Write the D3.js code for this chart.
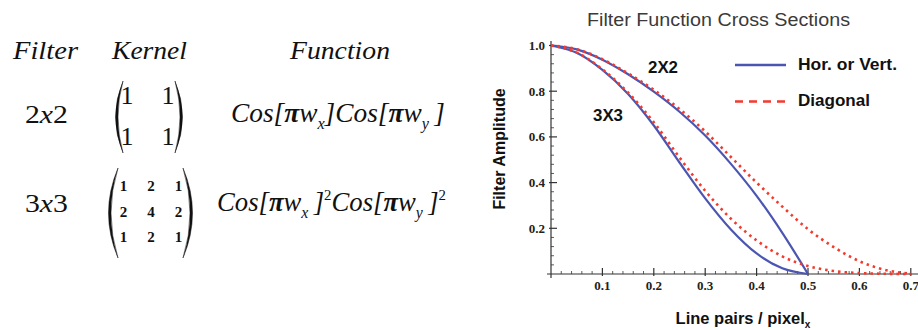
<!DOCTYPE html>
<html>
<head>
<meta charset="utf-8">
<script src="https://cdn.jsdelivr.net/npm/d3@7"></script>
<style>
  body { margin: 0; background: #fff; }
  svg { display: block; }
</style>
</head>
<body>
<div id="chart"></div>
<script>
// frequency samples (line pairs / pixel)
const freqs = [0, 0.05, 0.1, 0.15, 0.2, 0.25, 0.3, 0.35, 0.4, 0.45, 0.5, 0.55, 0.6, 0.65, 0.7];
// amplitudes
const hor2 = [1.0, 0.983, 0.938, 0.874, 0.798, 0.71, 0.606, 0.482, 0.342, 0.18, 0.0];
const diag2 = [1.0, 0.984, 0.94, 0.878, 0.806, 0.722, 0.624, 0.512, 0.4, 0.295, 0.196, 0.118, 0.056, 0.018, 0.002];
const hor3 = [1.0, 0.968, 0.893, 0.788, 0.65, 0.488, 0.331, 0.195, 0.09, 0.025, 0.0];
const diag3 = [1.0, 0.969, 0.896, 0.794, 0.664, 0.51, 0.364, 0.242, 0.147, 0.077, 0.035, 0.013, 0.004, 0.001, 0.0];

const xTicks = [0.1, 0.2, 0.3, 0.4, 0.5, 0.6, 0.7];
const yTicks = [0.2, 0.4, 0.6, 0.8, 1.0];

const width = 918, height = 330;
const svg = d3.select('#chart').append('svg')
  .attr('width', width)
  .attr('height', height);

svg.append('rect').attr('width', width).attr('height', height).attr('fill', '#fff');

// ---------- left: table of kernels ----------
const serif = '"Liberation Serif", "DejaVu Serif", serif';
const tbl = svg.append('g').attr('font-family', serif).attr('fill', '#111');

[['Filter', 13, 65], ['Kernel', 112, 75], ['Function', 290, 100]].forEach(([s, x0, len]) => {
  tbl.append('text').attr('x', x0).attr('y', 59).attr('font-size', 25)
    .attr('font-style', 'italic')
    .attr('textLength', len).attr('lengthAdjust', 'spacingAndGlyphs')
    .text(s);
});

function sizeLabel(y, a, b) {
  const t = tbl.append('text').attr('x', 25).attr('y', y).attr('font-size', 26)
    .attr('textLength', 43).attr('lengthAdjust', 'spacingAndGlyphs');
  t.append('tspan').text(a);
  t.append('tspan').attr('font-style', 'italic').text('x');
  t.append('tspan').text(b);
}
sizeLabel(123, '2', '2');
sizeLabel(212, '3', '3');

function paren(x, y0, y1, outer, inner) {
  const my = (y0 + y1) / 2;
  tbl.append('path')
    .attr('d', `M${x},${y0} Q${outer},${my} ${x},${y1} Q${inner},${my} ${x},${y0} Z`)
    .attr('fill', '#111').attr('stroke', '#111').attr('stroke-width', 0.5);
}
paren(123, 81, 153, 108, 113);
paren(175, 81, 153, 190, 185);
paren(118, 168, 258, 99, 104);
paren(183, 168, 258, 202, 197);

const k2 = [[1, 1], [1, 1]];
k2.forEach((row, i) => row.forEach((v, j) => {
  tbl.append('text').attr('x', 127 + j * 41).attr('y', 104 + i * 40.5)
    .attr('font-size', 26).attr('text-anchor', 'middle').text(v);
}));
const k3 = [[1, 2, 1], [2, 4, 2], [1, 2, 1]];
k3.forEach((row, i) => row.forEach((v, j) => {
  tbl.append('text').attr('x', 123.5 + j * 27.5).attr('y', 191 + i * 25.5)
    .attr('font-size', 15).attr('font-weight', 'bold').attr('text-anchor', 'middle').text(v);
}));

function func(x0, y0, len, squared) {
  const t = tbl.append('text').attr('x', x0).attr('y', y0).attr('font-size', 27)
    .attr('font-style', 'italic').attr('textLength', len).attr('lengthAdjust', 'spacingAndGlyphs');
  let shift = 0;
  ['x', 'y'].forEach(s => {
    t.append('tspan').attr('dy', -shift).text('Cos[');
    shift = 0;
    t.append('tspan').attr('font-weight', 'bold').text('π');
    t.append('tspan').text('w');
    t.append('tspan').attr('font-size', 16).attr('dy', 7).text(s);
    t.append('tspan').attr('dy', -7).text(s === 'y' || squared ? '\u2009]' : ']');
    if (squared) {
      t.append('tspan').attr('font-size', 15).attr('font-style', 'normal').attr('dy', -11).text('2');
      shift = -11;
    }
  });
}
func(231, 122, 214, false);
func(217, 211, 229, true);

// ---------- right: cross section plot ----------
const x = d3.scaleLinear().domain([0, 0.7]).range([551, 910.8]);
const y = d3.scaleLinear().domain([0, 1]).range([274, 45.5]);
const sans = '"Liberation Sans", Arial, sans-serif';

svg.append('text')
  .attr('x', 587).attr('y', 26)
  .attr('font-family', sans).attr('font-size', 17.5)
  .attr('textLength', 263).attr('lengthAdjust', 'spacingAndGlyphs')
  .attr('fill', '#3a3a3a')
  .text('Filter Function Cross Sections');

const axes = svg.append('g').attr('stroke', '#333').attr('stroke-width', 1.2);
// y axis
axes.append('line').attr('x1', x(0)).attr('x2', x(0)).attr('y1', y(1.02)).attr('y2', y(0) + 4);
// x axis
axes.append('line').attr('x1', x(0) - 4).attr('x2', width).attr('y1', y(0)).attr('y2', y(0));

const yMinor = d3.range(0.04, 1.001, 0.04).filter(v => !yTicks.some(t => Math.abs(t - v) < 1e-6));
axes.selectAll('.ymin').data(yMinor).join('line')
  .attr('stroke-width', 0.8)
  .attr('x1', x(0)).attr('x2', x(0) + 3)
  .attr('y1', d => y(d)).attr('y2', d => y(d));
axes.selectAll('.ymaj').data(yTicks).join('line')
  .attr('x1', x(0) - 2).attr('x2', x(0) + 6)
  .attr('y1', d => y(d)).attr('y2', d => y(d));

const xMinor = d3.range(0.02, 0.72, 0.02).filter(v => !xTicks.some(t => Math.abs(t - v) < 1e-6));
axes.selectAll('.xmin').data(xMinor).join('line')
  .attr('stroke-width', 0.8)
  .attr('x1', d => x(d)).attr('x2', d => x(d))
  .attr('y1', y(0)).attr('y2', y(0) - 3);
axes.selectAll('.xmaj').data(xTicks).join('line')
  .attr('x1', d => x(d)).attr('x2', d => x(d))
  .attr('y1', y(0) + 2).attr('y2', y(0) - 6);

svg.append('g').attr('font-family', serif).attr('font-weight', 'bold').attr('font-size', 13).attr('fill', '#222')
  .selectAll('text').data(yTicks).join('text')
  .attr('x', x(0) - 6).attr('y', d => y(d) + 4.5)
  .attr('text-anchor', 'end')
  .text(d => d.toFixed(1));

svg.append('g').attr('font-family', serif).attr('font-weight', 'bold').attr('font-size', 13).attr('fill', '#222')
  .selectAll('text').data(xTicks).join('text')
  .attr('x', d => x(d)).attr('y', y(0) + 16)
  .attr('text-anchor', 'middle')
  .text(d => d.toFixed(1));

svg.append('text')
  .attr('transform', `translate(505,149) rotate(-90)`)
  .attr('text-anchor', 'middle')
  .attr('font-family', sans).attr('font-weight', 'bold').attr('font-size', 16)
  .attr('fill', '#111')
  .text('Filter Amplitude');

const xl = svg.append('text')
  .attr('x', 743).attr('y', 324)
  .attr('text-anchor', 'middle')
  .attr('font-family', sans).attr('font-weight', 'bold').attr('font-size', 16.5)
  .attr('fill', '#111');
xl.append('tspan').text('Line pairs / pixel');
xl.append('tspan').attr('font-size', 10).attr('dy', 4).text('x');

const line = d3.line()
  .x((d, i) => x(freqs[i]))
  .y(d => y(d))
  .curve(d3.curveMonotoneX);

const blue = '#4b56b2', red = '#f5392c';
[hor2, hor3].forEach(s => {
  svg.append('path').datum(s).attr('d', line)
    .attr('fill', 'none').attr('stroke', blue).attr('stroke-width', 2.2);
});
[diag2, diag3].forEach(s => {
  svg.append('path').datum(s).attr('d', line)
    .attr('fill', 'none').attr('stroke', red).attr('stroke-width', 2.6)
    .attr('stroke-dasharray', '2.5,4');
});

const lbl = svg.append('g').attr('font-family', sans).attr('font-weight', 'bold').attr('font-size', 16.5).attr('fill', '#111');
lbl.append('text').attr('x', 648).attr('y', 73).attr('textLength', 30).attr('lengthAdjust', 'spacingAndGlyphs').text('2X2');
lbl.append('text').attr('x', 593).attr('y', 121).attr('textLength', 30).attr('lengthAdjust', 'spacingAndGlyphs').text('3X3');

// legend
const leg = svg.append('g');
leg.append('line').attr('x1', 735).attr('x2', 786).attr('y1', 65).attr('y2', 65)
  .attr('stroke', blue).attr('stroke-width', 2.6);
leg.append('line').attr('x1', 735).attr('x2', 786).attr('y1', 101.5).attr('y2', 101.5)
  .attr('stroke', red).attr('stroke-width', 2.6).attr('stroke-dasharray', '8,6');
leg.append('text').attr('x', 798).attr('y', 70)
  .attr('font-family', sans).attr('font-weight', 'bold').attr('font-size', 17).attr('fill', '#111')
  .attr('textLength', 99).attr('lengthAdjust', 'spacingAndGlyphs')
  .text('Hor. or Vert.');
leg.append('text').attr('x', 798).attr('y', 106)
  .attr('font-family', sans).attr('font-weight', 'bold').attr('font-size', 17).attr('fill', '#111')
  .attr('textLength', 72).attr('lengthAdjust', 'spacingAndGlyphs')
  .text('Diagonal');
</script>
</body>
</html>
